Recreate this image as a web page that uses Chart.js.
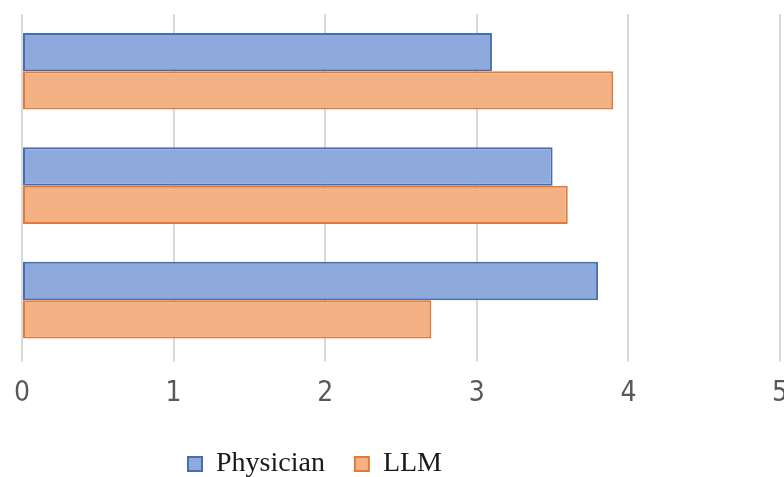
<!DOCTYPE html>
<html>
<head>
<meta charset="utf-8">
<script src="https://cdn.jsdelivr.net/npm/chart.js@4"></script>
<style>
  html, body { margin: 0; padding: 0; background: #fff; }
  #wrap { width: 784px; height: 477px; }
</style>
</head>
<body>
<div id="wrap"><canvas id="myChart" width="784" height="477"></canvas></div>
<script>
// categories have no visible labels in the original
const categories = ['C', 'B', 'A'];
const physician = [3.1, 3.5, 3.8];
const llm = [3.9, 3.6, 2.7];
const xTicks = [0, 1, 2, 3, 4, 5];

// legend: shorter box so the plot gets more room, and nudged left/up
const tweakLegend = {
  id: 'tweakLegend',
  beforeLayout(chart) {
    const l = chart.legend;
    if (l && !l._patched) {
      const fit = l.fit.bind(l);
      l.fit = function () { fit(); this.height -= 18; };
      l._patched = true;
    }
  },
  afterLayout(chart) {
    const l = chart.legend;
    l.left -= 86;
    l.right -= 86;
    l.top -= 7;
  }
};

const ctx = document.getElementById('myChart').getContext('2d');
const myBarChart = new Chart(ctx, {
  type: 'bar',
  data: {
    labels: categories,
    datasets: [{
      label: 'Physician',
      data: physician,
      backgroundColor: '#8eaadc',
      borderColor: '#4a6db0',
      borderWidth: 2,
      borderSkipped: false
    }, {
      label: 'LLM',
      data: llm,
      backgroundColor: '#f4b183',
      borderColor: '#e07b3c',
      borderWidth: 2,
      borderSkipped: false
    }]
  },
  options: {
    indexAxis: 'y',
    responsive: false,
    animation: false,
    layout: { padding: { left: 22, right: 4, top: 14, bottom: 0 } },
    datasets: {
      bar: { categoryPercentage: 0.67, barPercentage: 1.0 }
    },
    scales: {
      x: {
        min: 0,
        max: 5,
        afterBuildTicks(axis) {
          axis.ticks = xTicks.map(v => ({ value: v }));
        },
        afterFit(axis) {
          // let the end labels hang over the edge like the original
          axis.paddingLeft = 0;
          axis.paddingRight = 0;
        },
        border: { display: false },
        grid: { color: '#d9d9d9', lineWidth: 2, drawTicks: true, tickLength: 4 },
        ticks: {
          color: '#595959',
          padding: 16,
          font: { family: '"DejaVu Sans Condensed", "Liberation Sans Narrow", sans-serif', size: 28 }
        }
      },
      y: { display: false }
    },
    plugins: {
      tooltip: { enabled: false },
      legend: {
        position: 'bottom',
        labels: {
          color: '#1a1a1a',
          boxWidth: 14,
          boxHeight: 14,
          padding: 30,
          font: { family: 'Liberation Serif', size: 28 }
        }
      }
    }
  },
  plugins: [tweakLegend]
});
</script>
</body>
</html>
